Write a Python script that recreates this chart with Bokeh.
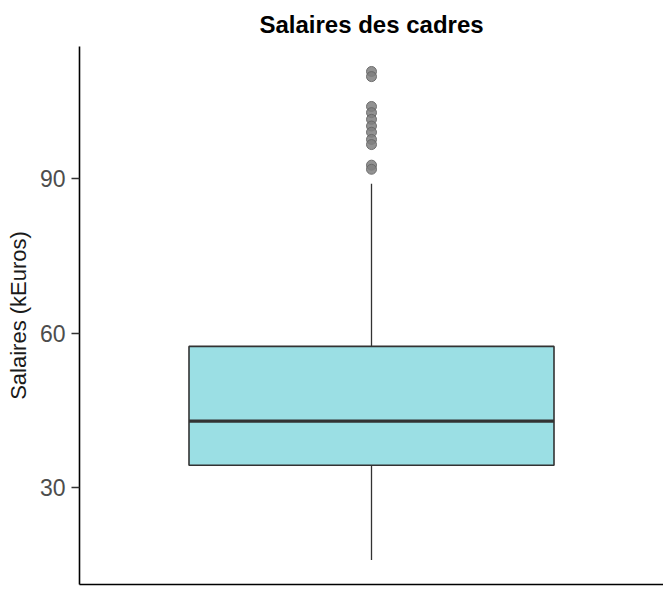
from bokeh.plotting import figure
from bokeh.models import ColumnDataSource, FixedTicker, Range1d
from bokeh.embed import file_html
from bokeh.resources import INLINE

# Data
categories = ["Cadres"]
q1 = [34.3]
median = [42.9]
q3 = [57.4]
whisker_low = [15.9]
whisker_high = [89.0]
outliers = [110.8, 109.8, 104.0, 102.8, 101.5, 100.2, 99.0, 97.6, 96.6, 92.6, 91.8]
y_ticks = [30, 60, 90]

xpos = [i + 1 for i in range(len(categories))]
box_w = 0.75

p = figure(width=663, height=590, output_backend="svg", toolbar_location=None,
           x_range=Range1d(0.4, 1.6), y_range=Range1d(11.15, 115.65),
           title="Salaires des cadres")
p.min_border_right = 0
p.min_border_top = 45
p.min_border_bottom = 6
p.min_border_left = 79

p.title.align = "center"
p.title.text_font = "Liberation Sans"
p.title.text_font_style = "bold"
p.title.text_font_size = "24px"
p.title.text_color = "#000000"
p.title.standoff = 17

src = ColumnDataSource(dict(x=xpos, q1=q1, q3=q3, med=median, lo=whisker_low, hi=whisker_high))

# whiskers
p.segment(x0="x", y0="q3", x1="x", y1="hi", source=src, line_color="#333333", line_width=1.3)
p.segment(x0="x", y0="lo", x1="x", y1="q1", source=src, line_color="#333333", line_width=1.3)
# box
p.vbar(x="x", width=box_w, top="q3", bottom="q1", source=src,
       fill_color="#9BDFE4", line_color="#333333", line_width=1.6)
# median
p.segment(x0=[x - box_w / 2 for x in xpos], y0=median, x1=[x + box_w / 2 for x in xpos], y1=median,
          line_color="#333333", line_width=3.2)
# outliers
p.scatter(x=[xpos[0]] * len(outliers), y=outliers, size=10, fill_color="#7f7f7f",
          line_color="#666666", fill_alpha=0.85, line_alpha=0.9)

p.grid.visible = False
p.outline_line_color = None

p.yaxis.ticker = FixedTicker(ticks=y_ticks)
p.yaxis.axis_label = "Salaires (kEuros)"
p.yaxis.axis_label_text_font = "Liberation Sans"
p.yaxis.axis_label_text_font_style = "normal"
p.yaxis.axis_label_text_font_size = "22px"
p.yaxis.axis_label_text_color = "#1A1A1A"
p.yaxis.axis_label_standoff = 6
p.yaxis.major_label_text_font = "Liberation Sans"
p.yaxis.major_label_text_font_size = "23px"
p.yaxis.major_label_text_color = "#4D4D4D"
p.yaxis.major_label_standoff = 6
p.yaxis.major_tick_out = 8
p.yaxis.major_tick_in = 0
p.yaxis.minor_tick_out = 0
p.yaxis.minor_tick_in = 0
p.yaxis.major_tick_line_color = "#333333"
p.yaxis.major_tick_line_width = 1.3
p.yaxis.axis_line_color = "#000000"
p.yaxis.axis_line_width = 1.6

p.xaxis.ticker = FixedTicker(ticks=[])
p.xaxis.major_label_text_font_size = "0px"
p.xaxis.major_tick_out = 0
p.xaxis.minor_tick_out = 0
p.xaxis.major_tick_in = 0
p.xaxis.minor_tick_in = 0
p.xaxis.axis_line_color = "#000000"
p.xaxis.axis_line_width = 1.6

open("out.html", "w").write(file_html(p, INLINE))
